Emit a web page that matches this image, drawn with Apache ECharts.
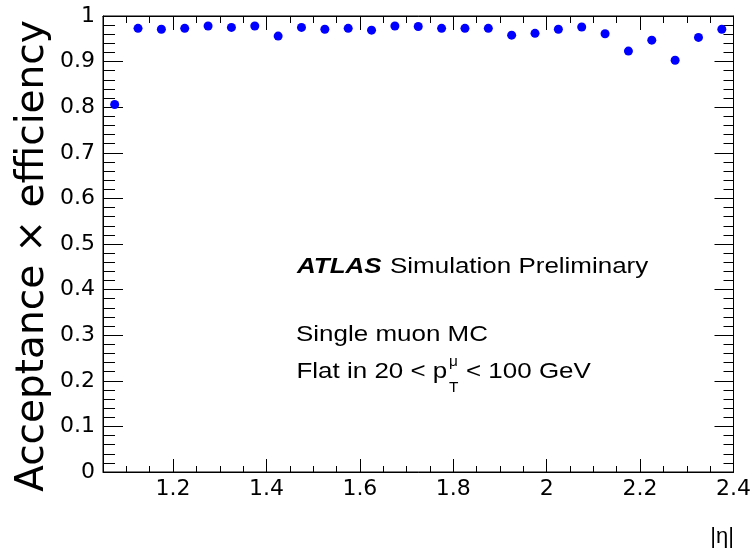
<!DOCTYPE html>
<html>
<head>
    <meta charset="UTF-8">
    <title>Acceptance x efficiency vs |eta|</title>
    <script src="https://cdn.jsdelivr.net/npm/echarts@6/dist/echarts.min.js"></script>
    <style>
        html, body { margin: 0; padding: 0; background: #fff; }
        #main { width: 754px; height: 552px; }
    </style>
</head>
<body>
<div id="main"></div>
<script>
    // bin centres in |eta| (bin width 0.05)
    var etaCentres = [1.075, 1.125, 1.175, 1.225, 1.275, 1.325, 1.375, 1.425, 1.475, 1.525,
        1.575, 1.625, 1.675, 1.725, 1.775, 1.825, 1.875, 1.925, 1.975, 2.025,
        2.075, 2.125, 2.175, 2.225, 2.275, 2.325, 2.375];
    // acceptance x efficiency
    var effValues = [0.806, 0.973, 0.971, 0.973, 0.978, 0.975, 0.978, 0.956, 0.975, 0.971,
        0.973, 0.969, 0.978, 0.977, 0.973, 0.973, 0.973, 0.958, 0.962, 0.971,
        0.976, 0.961, 0.923, 0.947, 0.903, 0.953, 0.971];
    // x axis ticks
    var xMajorTicks = [1.2, 1.4, 1.6, 1.8, 2.0, 2.2, 2.4];
    var xMinorTicks = [1.1, 1.15, 1.25, 1.3, 1.35, 1.45, 1.5, 1.55, 1.65, 1.7, 1.75,
        1.85, 1.9, 1.95, 2.05, 2.1, 2.15, 2.25, 2.3, 2.35];

    var points = [];
    for (var i = 0; i < etaCentres.length; i++) {
        points.push([etaCentres[i], effValues[i]]);
    }

    var black = '#000';
    var labelFont = {color: black, fontFamily: 'DejaVu Sans', fontSize: 22};

    // one x axis (bottom or top) drawing ticks at given values
    function tickAxis(pos, values, len, withLine, withLabels) {
        return {
            type: 'value', position: pos, min: 1.05, max: 2.4,
            axisLine: {show: withLine, onZero: false, lineStyle: {color: black, width: 1}},
            axisTick: {show: true, inside: true, length: len, customValues: values,
                lineStyle: {color: black, width: 1}},
            axisLabel: withLabels ? Object.assign({show: true, margin: 6, customValues: values}, labelFont) : {show: false},
            splitLine: {show: false}
        };
    }

    var chart = echarts.init(document.getElementById('main'));
    chart.setOption({
        animation: false,
        backgroundColor: '#fff',
        // frame round the plot area
        grid: {left: 103, right: 19, top: 16, bottom: 80, containLabel: false,
            show: true, borderColor: black, borderWidth: 1, backgroundColor: 'transparent'},
        xAxis: [
            tickAxis('bottom', xMajorTicks, 13, true, true),
            tickAxis('bottom', xMinorTicks, 6, false, false),
            tickAxis('top', xMajorTicks, 14, true, false),
            tickAxis('top', xMinorTicks, 7, false, false)
        ],
        yAxis: [
            {
                type: 'value', position: 'left', min: 0, max: 1, interval: 0.1,
                axisLine: {show: true, onZero: false, lineStyle: {color: black}},
                axisTick: {show: true, inside: true, length: 20, lineStyle: {color: black}},
                minorTick: {show: true, splitNumber: 5, length: 12, lineStyle: {color: black}},
                axisLabel: Object.assign({margin: 8}, labelFont),
                splitLine: {show: false}
            },
            {
                type: 'value', position: 'right', min: 0, max: 1, interval: 0.1,
                axisLine: {show: true, onZero: false, lineStyle: {color: black}},
                axisTick: {show: true, inside: true, length: 19, lineStyle: {color: black}},
                minorTick: {show: true, splitNumber: 5, length: 10, lineStyle: {color: black}},
                axisLabel: {show: false},
                splitLine: {show: false}
            }
        ],
        series: [{
            type: 'scatter',
            xAxisIndex: 0,
            yAxisIndex: 0,
            data: points,
            symbol: 'circle',
            symbolSize: 9,
            itemStyle: {color: '#0000ff', opacity: 1}
        }],
        graphic: [
            {type: 'text', x: 33, y: 256, rotation: Math.PI / 2,
                style: {text: 'Acceptance \u00d7 efficiency', fontFamily: 'DejaVu Sans', fontSize: 39,
                    fill: black, align: 'center', verticalAlign: 'middle'}},
            {type: 'text', x: 734, y: 537,
                style: {text: '|\u03b7|', fontFamily: 'Liberation Sans', fontSize: 22,
                    fill: black, align: 'right', verticalAlign: 'middle'}},
            {type: 'text', x: 297, y: 267, scaleX: 1.18,
                style: {text: 'ATLAS', fontFamily: 'Liberation Sans', fontSize: 22, fontWeight: 'bold',
                    fontStyle: 'italic', fill: black, align: 'left', verticalAlign: 'middle'}},
            {type: 'text', x: 390, y: 267, scaleX: 1.18,
                style: {text: 'Simulation Preliminary', fontFamily: 'Liberation Sans', fontSize: 22,
                    fill: black, align: 'left', verticalAlign: 'middle'}},
            {type: 'text', x: 296, y: 335, scaleX: 1.18,
                style: {text: 'Single muon MC', fontFamily: 'Liberation Sans', fontSize: 22,
                    fill: black, align: 'left', verticalAlign: 'middle'}},
            {type: 'text', x: 296.5, y: 371.5, scaleX: 1.18,
                style: {text: 'Flat in 20 < p', fontFamily: 'Liberation Sans', fontSize: 22,
                    fill: black, align: 'left', verticalAlign: 'middle'}},
            {type: 'text', x: 449, y: 362, scaleX: 1.1,
                style: {text: '\u03bc', fontFamily: 'Liberation Sans', fontSize: 14,
                    fill: black, align: 'left', verticalAlign: 'middle'}},
            {type: 'text', x: 449, y: 388, scaleX: 1.1,
                style: {text: 'T', fontFamily: 'Liberation Sans', fontSize: 14,
                    fill: black, align: 'left', verticalAlign: 'middle'}},
            {type: 'text', x: 466, y: 371.5, scaleX: 1.18,
                style: {text: '< 100 GeV', fontFamily: 'Liberation Sans', fontSize: 22,
                    fill: black, align: 'left', verticalAlign: 'middle'}}
        ]
    });
</script>
</body>
</html>
